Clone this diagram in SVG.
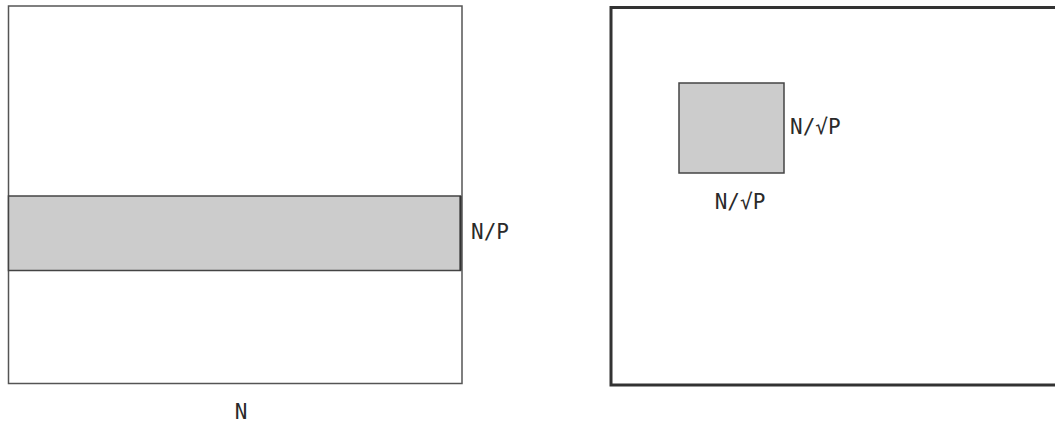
<svg xmlns="http://www.w3.org/2000/svg" width="1055" height="425" viewBox="0 0 1055 425">
  <style>
    .frame { fill: #ffffff; stroke: #555555; stroke-width: 1.5; }
    .frame-bold { fill: #ffffff; stroke: #333333; stroke-width: 3; }
    .block { fill: #cccccc; stroke: #444444; stroke-width: 1.5; }
    .label { font-family: "DejaVu Sans Mono", "Liberation Mono", monospace; font-size: 21px; fill: #2a2a2a; }
  </style>
  <rect width="1055" height="425" fill="#ffffff"/>

  <!-- row-wise decomposition -->
  <g id="row-decomposition">
    <rect class="frame" x="8.5" y="6" width="453.5" height="377.5"/>
    <rect class="block" x="8.5" y="196" width="452" height="74.5"/>
    <line x1="460.5" y1="196" x2="460.5" y2="270.5" stroke="#333333" stroke-width="2"/>
    <text class="label" x="471" y="239">N/P</text>
    <text class="label" x="241" y="419" text-anchor="middle">N</text>
  </g>

  <!-- block decomposition -->
  <g id="block-decomposition">
    <rect class="frame-bold" x="611" y="7.5" width="460" height="377.5"/>
    <rect class="block" x="679" y="83" width="105" height="90"/>
    <text class="label" x="790" y="134">N/√P</text>
    <text class="label" x="740" y="209" text-anchor="middle">N/√P</text>
  </g>
</svg>
